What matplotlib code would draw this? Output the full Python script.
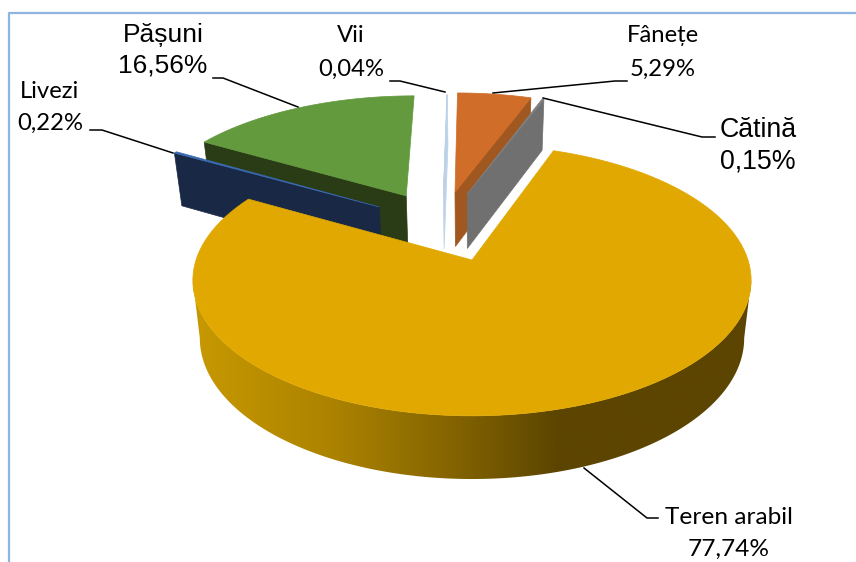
import numpy as np
import matplotlib
matplotlib.use('Agg')
from matplotlib import pyplot as plt
from matplotlib.colors import LinearSegmentedColormap
from matplotlib.patches import Polygon

# land use shares, clockwise from the Teren arabil slice
categories = ['Teren arabil', 'Livezi', 'Pășuni', 'Vii', 'Fânețe', 'Cătină']
values = [77.74, 0.22, 16.56, 0.04, 5.29, 0.15]
value_labels = ['77,74%', '0,22%', '16,56%', '0,04%', '5,29%', '0,15%']

## Layout of the fake 3D pie ---------
start_angle = 19.7
cx, cy = 472, 260      # apex of the big slice, in pixels
radius = 276
tilt = 0.48
persp = 0.15
depth = 57
shrink = 0.975

# how far each slice is pulled out, ground plane units
offsets = {
    'Teren arabil': (0, 0),
    'Livezi': (-0.357, 0.4255),
    'Pășuni': (-0.257, 0.522),
    'Vii': (-0.112, 0.535),
    'Fânețe': (-0.0668, 0.555),
    'Cătină': (-0.0188, 0.538),
}
top_colors = {
    'Teren arabil': '#E0A800', 'Livezi': '#3A6AB0', 'Pășuni': '#629A3D',
    'Vii': '#BCD2E8', 'Fânețe': '#CF6D29', 'Cătină': '#7F7F7F',
}
wall_colors = {
    'Livezi': '#182845', 'Pășuni': '#2A3C16', 'Vii': '#BCD2E8',
    'Fânețe': '#A05820', 'Cătină': '#707070',
}
draw_order = ['Pășuni', 'Livezi', 'Vii', 'Fânețe', 'Cătină', 'Teren arabil']

fonts = {
    'Teren arabil': ('Lato', 17.6), 'Livezi': ('Lato', 17.2), 'Pășuni': ('Liberation Sans', 19),
    'Vii': ('Lato', 17.2), 'Fânețe': ('Lato', 17.2), 'Cătină': ('Liberation Sans', 19.3),
}
label_pos = {
    'Teren arabil': (728.5, 518, 549), 'Livezi': (50, 92, 123), 'Pășuni': (163, 35, 66),
    'Vii': (351, 36, 69), 'Fânețe': (663, 36, 69), 'Cătină': (758, 130, 162),
}
leaders = {
    'Teren arabil': [(658, 518), (647, 518), (584, 468)],
    'Livezi': [(90, 130), (102, 130), (173, 153)],
    'Pășuni': [(213, 78), (223, 78), (298, 107)],
    'Vii': [(390, 81), (400, 81), (445, 92)],
    'Fânețe': [(627, 81), (615, 81), (493, 93)],
    'Cătină': [(715, 137), (702, 137), (543, 98)],
}


def project(gx, gy):
    s = 1 / (1 + persp * gy)
    return cx + radius * gx * s, cy - radius * tilt * gy * s, s


def rim(name, a1, a2, n=120):
    # points of the slice outline on the ground plane, angle clockwise from north
    ox, oy = offsets[name]
    t = np.radians(np.linspace(a1, a2, n))
    return ox + np.sin(t), oy + np.cos(t)


def lower(px, py, s):
    # same points on the bottom face of the pie
    return cx + (px - cx) * shrink, (py - cy) * shrink + cy + depth * s


fig = plt.figure(figsize=(8.56, 5.62), dpi=100)
ax = fig.add_axes([0, 0, 1, 1])
ax.set_xlim(0, 856)
ax.set_ylim(562, 0)
ax.axis('off')

# frame of the pasted picture
ax.plot([9, 9, 856], [562, 13, 13], color='#8DB4E2', lw=1.6, zorder=1)

angles = np.array(values) / sum(values) * 360
starts = start_angle + np.concatenate([[0], np.cumsum(angles)[:-1]])
spans = {c: (a, a + d) for c, a, d in zip(categories, starts, angles)}

zo = 2
for name in draw_order:
    a1, a2 = spans[name]
    ox, oy = offsets[name]
    ax_x, ax_y, ax_s = project(ox, oy)

    if name == 'Teren arabil':
        # curved front wall with the left to right shading
        lim = np.degrees(np.arcsin(persp))
        gx, gy = rim(name, 90 + lim, 270 - lim, 200)
        px, py, s = project(gx, gy)
        bx, by = lower(px, py, s)
        wall = Polygon(np.r_[np.c_[px, py], np.c_[bx, by][::-1]], closed=True,
                       fc='none', ec='none', zorder=zo)
        ax.add_patch(wall)
        cmap = LinearSegmentedColormap.from_list('wall', [
            (0.0, '#C89900'), (0.25, '#AC8300'), (0.47, '#836300'),
            (0.65, '#5C4500'), (1.0, '#5C4500')])
        img = ax.imshow(np.linspace(0, 1, 256).reshape(1, -1), cmap=cmap, aspect='auto',
                        extent=[190, 755, 562, 0], zorder=zo, interpolation='bilinear')
        img.set_clip_path(wall)
        ax.set_xlim(0, 856)
        ax.set_ylim(562, 0)
    else:
        # flat radial wall, the one facing the viewer
        edge = a1 if name in ('Pășuni', 'Livezi') else a2
        gx, gy = rim(name, edge, edge, 2)
        px, py, s = project(gx, gy)
        bx, by = lower(px, py, s)
        b0x, b0y = lower(ax_x, ax_y, ax_s)
        pts = [(ax_x, ax_y), (px[0], py[0]), (bx[0], by[0]), (b0x, b0y)]
        ax.add_patch(Polygon(pts, closed=True, fc=wall_colors[name], ec=wall_colors[name],
                             lw=0.5, zorder=zo))

    # top face
    gx, gy = rim(name, a1, a2)
    px, py, s = project(gx, gy)
    pts = np.r_[[(ax_x, ax_y)], np.c_[px, py]]
    ax.add_patch(Polygon(pts, closed=True, fc=top_colors[name], ec=top_colors[name],
                         lw=0.5, zorder=zo + 0.5))
    zo += 1

# labels with leader lines
for name, lab in zip(categories, value_labels):
    fam, size = fonts[name]
    x, y1, y2 = label_pos[name]
    ax.text(x, y1, name, family=[fam, 'DejaVu Sans'], fontsize=size, ha='center', va='center',
            color='black', zorder=20)
    ax.text(x, y2, lab, family=[fam, 'DejaVu Sans'], fontsize=size, ha='center', va='center',
            color='black', zorder=20)
    pts = leaders[name]
    ax.plot([p[0] for p in pts], [p[1] for p in pts], color='black', lw=1.1, zorder=19)

plt.savefig('out.png', dpi=100)
